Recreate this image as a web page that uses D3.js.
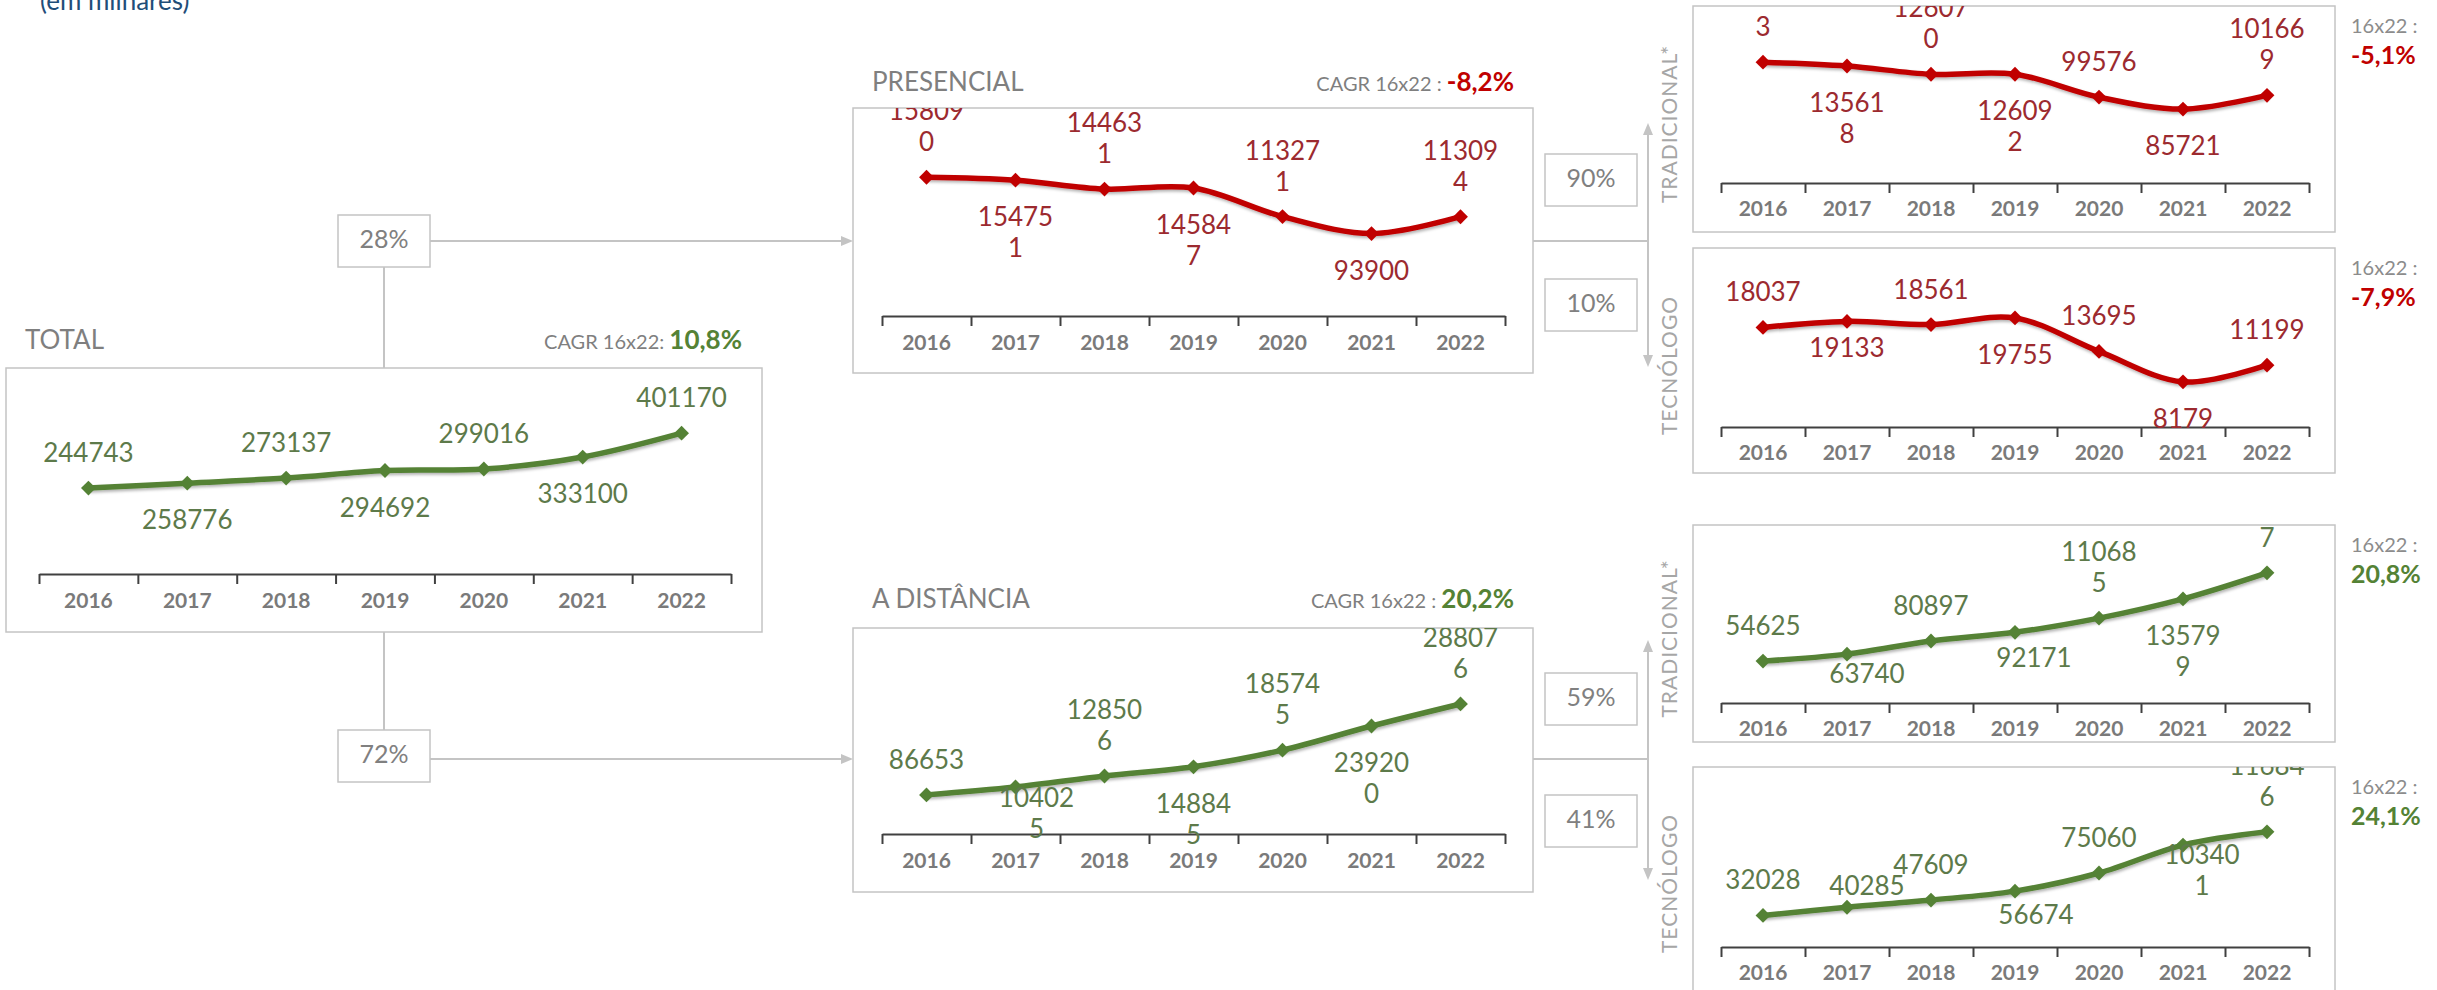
<!doctype html>
<html lang="pt">
<head>
<meta charset="utf-8">
<title>Matrículas (em milhares)</title>
<script src="https://d3js.org/d3.v7.min.js"></script>
<style>
body { margin: 0; background: #fff; }
svg { display: block; font-family: Lato, 'Open Sans', sans-serif; }
.box { fill: #fff; stroke: #c4c4c4; stroke-width: 1.5; }
.conn { stroke: #c4c4c4; stroke-width: 2; fill: none; }
.arrow { fill: #c4c4c4; }
.ticks path, .ticks line { stroke: #404040; stroke-width: 2; }
.years text { font-weight: 700; fill: #7a7a7a; font-size: 21px; font-family: Lato, sans-serif; }
.years path { display: none; }
.title { font-size: 26px; fill: #7f7f7f; }
.share { font-size: 25px; fill: #808080; }
.side { font-size: 21px; fill: #a6a6a6; letter-spacing: 1px; }
.dlabel { font-size: 26px; }
</style>
</head>
<body>
<svg id="chart" width="2437" height="990"></svg>
<script>
// values (em milhares)
const years = ['2016', '2017', '2018', '2019', '2020', '2021', '2022'];
const total = [244743, 258776, 273137, 294692, 299016, 333100, 401170];
const presencial = [158090, 154751, 144631, 145847, 113271, 93900, 113094];
const distancia = [86653, 104025, 128506, 148845, 185745, 239200, 288076];
const presTradicional = [140053, 135618, 126070, 126092, 99576, 85721, 101669];
const presTecnologo = [18037, 19133, 18561, 19755, 13695, 8179, 11199];
const distTradicional = [54625, 63740, 80897, 92171, 110685, 135799, 169747];
const distTecnologo = [32028, 40285, 47609, 56674, 75060, 103401, 116846];
const cagr = ['10,8%', '-8,2%', '20,2%', '-5,1%', '-7,9%', '20,8%', '24,1%'];
const shares = ['28%', '72%', '90%', '10%', '59%', '41%'];

const RED = '#c00000', RED_TXT = '#9c2a2f';
const GREEN = '#548235', GREEN_TXT = '#5d7a4a';

const svg = d3.select('#chart');
const defs = svg.append('defs');
const sh = defs.append('filter').attr('id', 'shadow')
  .attr('x', '-5%').attr('y', '-20%').attr('width', '110%').attr('height', '140%');
sh.append('feDropShadow').attr('dx', 1).attr('dy', 2).attr('stdDeviation', 1.5)
  .attr('flood-color', '#000').attr('flood-opacity', 0.3);

svg.append('text').attr('x', 40).attr('y', 10)
  .attr('font-size', 26).attr('fill', '#1f4e79').text('(em milhares)');

// label nudges [dx, dy] where the original labels were moved by hand
const nudges = {
  presTecnologo: { 1: [0, -10] },
  distancia: { 1: [21, -26] },
  distTradicional: { 1: [20, -17], 3: [19, -11] },
  distTecnologo: { 1: [20, -58], 3: [21, -13], 5: [19, -27] }
};

function drawChart(key, values, o) {
  const g = svg.append('g');
  const [bx0, by0, bx1, by1] = o.box;
  g.append('rect').attr('class', 'box')
    .attr('x', bx0).attr('y', by0).attr('width', bx1 - bx0).attr('height', by1 - by0);
  defs.append('clipPath').attr('id', 'clip-' + key).append('rect')
    .attr('x', bx0).attr('y', by0).attr('width', bx1 - bx0).attr('height', by1 - by0);

  const xb = d3.scaleBand().domain(years).range([o.ax0, o.ax1]);
  const xe = d3.scaleLinear().domain([0, years.length]).range([o.ax0, o.ax1]);
  const y = d3.scaleLinear().domain([0, o.yMax]).range([o.axisY, o.axisY - o.h]);
  const cx = i => xb(years[i]) + xb.bandwidth() / 2;

  g.append('g').attr('class', 'ticks').attr('transform', `translate(0,${o.axisY})`)
    .call(d3.axisBottom(xe).tickValues(d3.range(years.length + 1)).tickSize(10).tickSizeOuter(0).tickFormat(''));
  g.append('g').attr('class', 'years').attr('transform', `translate(0,${o.axisY})`)
    .call(d3.axisBottom(xb).tickSize(0).tickPadding(o.yearPad));

  const inner = g.append('g').attr('clip-path', `url(#clip-${key})`);
  const line = d3.line().x((d, i) => cx(i)).y(d => y(d)).curve(d3.curveCatmullRom.alpha(0.5));
  inner.append('path').datum(values).attr('d', line)
    .attr('fill', 'none').attr('stroke', o.color).attr('stroke-width', 5.5)
    .attr('filter', 'url(#shadow)');
  inner.selectAll('.mk').data(values).join('path').attr('class', 'mk')
    .attr('d', d3.symbol(d3.symbolSquare, 110))
    .attr('transform', (d, i) => `translate(${cx(i)},${y(d)}) rotate(45)`)
    .attr('fill', o.color);

  const nd = nudges[key] || {};
  values.forEach((v, i) => {
    const s = String(v);
    const lines = (o.wrap && s.length > 5) ? [s.slice(0, 5), s.slice(5)] : [s];
    const up = i % 2 === 0;
    const [dx, dy] = nd[i] || [0, 0];
    const base = up ? y(v) - 26 - (lines.length - 1) * 31 : y(v) + 46;
    const t = inner.append('text').attr('class', 'dlabel').attr('text-anchor', 'middle')
      .attr('fill', o.text);
    lines.forEach((l, k) => {
      t.append('tspan').attr('x', cx(i) + dx).attr('y', base + dy + k * 31).text(l);
    });
  });
  return g;
}

function cagrLine(x, yPos, label, value, color) {
  const t = svg.append('text').attr('x', x).attr('y', yPos).attr('text-anchor', 'end');
  t.append('tspan').attr('font-size', 20).attr('fill', '#7f7f7f').text(label);
  t.append('tspan').attr('font-size', 26).attr('font-weight', 700).attr('fill', color).text(value);
}

function shareBox(x0, y0, w, h, txt) {
  svg.append('rect').attr('class', 'box').attr('x', x0).attr('y', y0).attr('width', w).attr('height', h);
  svg.append('text').attr('class', 'share').attr('x', x0 + w / 2).attr('y', y0 + 33)
    .attr('text-anchor', 'middle').text(txt);
}

function arrowHead(x, yPos, dir) {
  // dir: 'right', 'up', 'down'
  const pts = dir === 'right' ? [[x, yPos], [x - 12, yPos - 5], [x - 12, yPos + 5]]
    : dir === 'up' ? [[x, yPos], [x - 5, yPos + 12], [x + 5, yPos + 12]]
    : [[x, yPos], [x - 5, yPos - 12], [x + 5, yPos - 12]];
  svg.append('path').attr('class', 'arrow').attr('d', d3.line()(pts) + 'Z');
}

// connectors (drawn first, under the boxes)
const conn = svg.append('g');
conn.append('path').attr('class', 'conn').attr('d', 'M384,267V368M384,632V730');
conn.append('path').attr('class', 'conn').attr('d', 'M430,241H842M430,759H842');
conn.append('path').attr('class', 'conn').attr('d', 'M1533,241H1648M1648,134V355M1533,759H1648M1648,652V868');
arrowHead(853, 241, 'right');
arrowHead(853, 759, 'right');
arrowHead(1648, 123, 'up');
arrowHead(1648, 367, 'down');
arrowHead(1648, 640, 'up');
arrowHead(1648, 880, 'down');

shareBox(338, 215, 92, 52, shares[0]);
shareBox(338, 730, 92, 52, shares[1]);
shareBox(1545, 154, 92, 52, shares[2]);
shareBox(1545, 279, 92, 52, shares[3]);
shareBox(1545, 673, 92, 52, shares[4]);
shareBox(1545, 795, 92, 52, shares[5]);

const main = { h: 158, yearPad: 19, wrap: true };
const small = { h: 138, yearPad: 18, wrap: true, ax0: 1721, ax1: 2309 };

drawChart('total', total, Object.assign({}, main, {
  box: [6, 368, 762, 632], ax0: 39, ax1: 731, axisY: 574, yMax: 450000,
  color: GREEN, text: GREEN_TXT, wrap: false
}));
drawChart('presencial', presencial, Object.assign({}, main, {
  box: [853, 108, 1533, 373], ax0: 882, ax1: 1505, axisY: 316, yMax: 180000,
  color: RED, text: RED_TXT
}));
drawChart('distancia', distancia, Object.assign({}, main, {
  box: [853, 628, 1533, 892], ax0: 882, ax1: 1505, axisY: 834, yMax: 350000,
  color: GREEN, text: GREEN_TXT
}));
drawChart('presTradicional', presTradicional, Object.assign({}, small, {
  box: [1693, 6, 2335, 232], axisY: 183, yMax: 160000, color: RED, text: RED_TXT
}));
drawChart('presTecnologo', presTecnologo, Object.assign({}, small, {
  box: [1693, 248, 2335, 473], axisY: 427, yMax: 25000, color: RED, text: RED_TXT
}));
drawChart('distTradicional', distTradicional, Object.assign({}, small, {
  box: [1693, 525, 2335, 742], axisY: 703, yMax: 180000, color: GREEN, text: GREEN_TXT
}));
drawChart('distTecnologo', distTecnologo, Object.assign({}, small, {
  box: [1693, 767, 2335, 996], axisY: 947, yMax: 140000, color: GREEN, text: GREEN_TXT
}));

// titles
svg.append('text').attr('class', 'title').attr('x', 25).attr('y', 349).text('TOTAL');
svg.append('text').attr('class', 'title').attr('x', 872).attr('y', 91).text('PRESENCIAL');
svg.append('text').attr('class', 'title').attr('x', 872).attr('y', 608).text('A DISTÂNCIA');
cagrLine(742, 349, 'CAGR 16x22: ', cagr[0], GREEN);
cagrLine(1514, 91, 'CAGR 16x22 : ', cagr[1], RED);
cagrLine(1514, 608, 'CAGR 16x22 : ', cagr[2], GREEN);

// right column side labels and CAGR
const sideBoxes = [[6, 232, 'TRADICIONAL*'], [248, 473, 'TECNÓLOGO'], [525, 742, 'TRADICIONAL*'], [767, 990, 'TECNÓLOGO']];
const sideColors = [RED, RED, GREEN, GREEN];
sideBoxes.forEach(([t0, t1, name], i) => {
  svg.append('text').attr('class', 'side').attr('text-anchor', 'middle')
    .attr('transform', `translate(1677,${(t0 + t1) / 2 + 5}) rotate(-90)`).text(name);
  svg.append('text').attr('x', 2351).attr('y', t0 + 27).attr('font-size', 20)
    .attr('fill', '#8c8c8c').text('16x22 :');
  svg.append('text').attr('x', 2351).attr('y', t0 + 58).attr('font-size', 25)
    .attr('font-weight', 700).attr('fill', sideColors[i]).text(cagr[i + 3]);
});
</script>
</body>
</html>
